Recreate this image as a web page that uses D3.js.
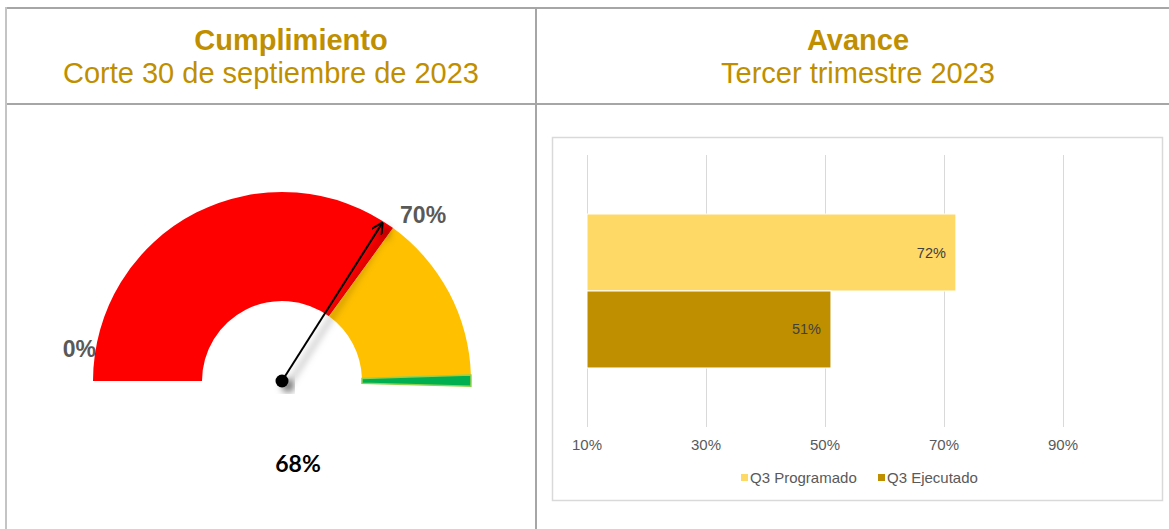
<!DOCTYPE html>
<meta charset="utf-8">
<style>
    body { margin: 0; background: #fff; }
    svg { display: block; font-family: "Liberation Sans", Arial, sans-serif; }
    .title { fill: #bf8f00; text-anchor: middle; font-size: 29px; }
    .grid line { stroke: #d9d9d9; stroke-width: 1px; }
    .tick-label { fill: #595959; font-size: 15px; text-anchor: middle; }
    .bar-label { fill: #404040; font-size: 14.5px; text-anchor: end; }
    .legend text { fill: #595959; font-size: 15px; }
    .gauge-label { fill: #595959; font-size: 23px; font-weight: bold; }
</style>
<body>
<script src="https://cdnjs.cloudflare.com/ajax/libs/d3/7.8.5/d3.min.js"></script>
<script>
    // ---- data ----
    var headerTitles = ["Cumplimiento", "Avance"];
    var headerSubtitles = ["Corte 30 de septiembre de 2023", "Tercer trimestre 2023"];

    // gauge: bands (fraction of the half circle), needle value and labels
    var gaugeBandStarts = [0, 0.70, 0.99];
    var gaugeBandEnds = [0.70, 0.99, 1.009];
    var gaugeBandColors = ["#ff0000", "#ffc000", "#00b050"];
    var gaugeValue = 0.68;
    var gaugeLabelValues = [0, 0.70];
    var gaugeLabelTexts = ["0%", "70%"];
    var gaugeValueText = "68%";

    // bar chart
    var categories = ["Q3"];
    var seriesNames = ["Q3 Programado", "Q3 Ejecutado"];
    var seriesValues = [0.72, 0.51];
    var seriesColors = ["#ffd966", "#bf8f00"];
    var xTicks = [0.1, 0.3, 0.5, 0.7, 0.9];

    var W = 1169, H = 529;
    var svg = d3.select("body").append("svg")
        .attr("width", W)
        .attr("height", H);

    var defs = svg.append("defs");
    defs.append("filter")
        .attr("id", "shadow")
        .attr("x", "-50%").attr("y", "-50%")
        .attr("width", "200%").attr("height", "200%")
        .append("feDropShadow")
        .attr("dx", 6).attr("dy", 5)
        .attr("stdDeviation", 3.5)
        .attr("flood-color", "#000")
        .attr("flood-opacity", 0.5);
    defs.append("marker")
        .attr("id", "arrow")
        .attr("viewBox", "0 0 10 10")
        .attr("refX", 9).attr("refY", 5)
        .attr("markerWidth", 6).attr("markerHeight", 6)
        .attr("orient", "auto")
        .append("path")
        .attr("d", "M0,0 L10,5 L0,10")
        .attr("fill", "none")
        .attr("stroke", "#000")
        .attr("stroke-width", 1.6);

    // ---- table frame ----
    var frame = svg.append("g").attr("stroke", "#a6a6a6").attr("stroke-width", 2);
    frame.append("line").attr("x1", 5).attr("x2", W).attr("y1", 8).attr("y2", 8);
    frame.append("line").attr("x1", 5).attr("x2", W).attr("y1", 104).attr("y2", 104);
    frame.append("line").attr("x1", 6).attr("x2", 6).attr("y1", 7).attr("y2", H)
        .attr("stroke", "#c4c4c4");
    frame.append("line").attr("x1", 536).attr("x2", 536).attr("y1", 7).attr("y2", H);

    // ---- headers ----
    var headerX = [291, 858];
    headerTitles.forEach(function(t, i) {
        svg.append("text").attr("class", "title")
            .attr("x", headerX[i]).attr("y", 50)
            .style("font-weight", "bold")
            .text(t);
        svg.append("text").attr("class", "title")
            .attr("x", i == 0 ? 271 : 858).attr("y", 83)
            .text(headerSubtitles[i]);
    });

    // ---- gauge ----
    var cx = 282, cy = 381, rInner = 80, rOuter = 189;
    var angle = d3.scaleLinear().domain([0, 1]).range([-Math.PI / 2, Math.PI / 2]);
    var arc = d3.arc().innerRadius(rInner).outerRadius(rOuter);
    var gauge = svg.append("g").attr("transform", "translate(" + cx + "," + cy + ")");

    gauge.selectAll("path.band")
        .data(gaugeBandStarts)
        .enter().append("path")
        .attr("class", "band")
        .attr("d", function(d, i) {
            return arc({ startAngle: angle(d), endAngle: angle(gaugeBandEnds[i]) });
        })
        .attr("fill", function(d, i) { return gaugeBandColors[i]; })
        .attr("stroke", function(d, i) { return i == 2 ? "#92d050" : "none"; })
        .attr("stroke-width", 1.5);

    function polar(v, r) {
        var a = angle(v);
        return [r * Math.sin(a), -r * Math.cos(a)];
    }

    // labels
    gaugeLabelValues.forEach(function(v, i) {
        var p = polar(v, rOuter);
        var t = gauge.append("text").attr("class", "gauge-label").text(gaugeLabelTexts[i]);
        if (i == 0) {
            t.attr("x", p[0] + 3).attr("y", p[1] - 24).attr("text-anchor", "end");
        } else {
            t.attr("x", p[0] + 7).attr("y", p[1] - 5).attr("text-anchor", "start");
        }
    });

    // needle
    var tip = polar(gaugeValue, 187);
    gauge.append("line")
        .attr("x1", 0).attr("y1", 0)
        .attr("x2", tip[0]).attr("y2", tip[1])
        .attr("stroke", "#000")
        .attr("stroke-width", 2)
        .attr("marker-end", "url(#arrow)")
        .attr("filter", "url(#shadow)");
    gauge.append("circle")
        .attr("r", 6.5)
        .attr("fill", "#000")
        .attr("filter", "url(#shadow)");

    svg.append("text")
        .attr("x", 298).attr("y", 472)
        .attr("text-anchor", "middle")
        .style("font-family", "Lato, 'Open Sans', sans-serif")
        .style("font-weight", "bold")
        .style("font-size", "23px")
        .attr("fill", "#000")
        .text(gaugeValueText);

    // ---- bar chart ----
    svg.append("rect")
        .attr("x", 552.5).attr("y", 137.5)
        .attr("width", 610).attr("height", 363)
        .attr("fill", "#fff")
        .attr("stroke", "#d9d9d9")
        .attr("stroke-width", 1.5);

    var x = d3.scaleLinear().domain([0.1, 0.9]).range([587, 1063]);
    var y0 = d3.scaleBand().domain(categories).range([155, 427])
        .paddingInner(0.434).paddingOuter(0.217);
    var y1 = d3.scaleBand().domain(seriesNames).range([0, y0.bandwidth()]);

    var grid = svg.append("g").attr("class", "grid");
    grid.selectAll("line").data(xTicks).enter().append("line")
        .attr("x1", function(d) { return x(d) + 0.5; })
        .attr("x2", function(d) { return x(d) + 0.5; })
        .attr("y1", 155).attr("y2", 427);

    svg.selectAll("text.tick-label").data(xTicks).enter().append("text")
        .attr("class", "tick-label")
        .attr("x", function(d) { return x(d); })
        .attr("y", 450)
        .text(d3.format(".0%"));

    var cat = svg.append("g").attr("transform", "translate(0," + y0(categories[0]) + ")");
    cat.selectAll("rect").data(seriesValues).enter().append("rect")
        .attr("x", x(0.1))
        .attr("y", function(d, i) { return y1(seriesNames[i]); })
        .attr("width", function(d) { return x(d) - x(0.1); })
        .attr("height", y1.bandwidth())
        .attr("fill", function(d, i) { return seriesColors[i]; })
        .attr("stroke", "#fff")
        .attr("stroke-width", 1);

    cat.selectAll("text").data(seriesValues).enter().append("text")
        .attr("class", "bar-label")
        .attr("x", function(d) { return x(d) - 10; })
        .attr("y", function(d, i) { return y1(seriesNames[i]) + y1.bandwidth() / 2 + 5; })
        .text(d3.format(".0%"));

    // legend
    var legendX = [741, 878];
    var legend = svg.append("g").attr("class", "legend");
    seriesNames.forEach(function(s, i) {
        legend.append("rect")
            .attr("x", legendX[i]).attr("y", 474)
            .attr("width", 7).attr("height", 7)
            .attr("fill", seriesColors[i]);
        legend.append("text")
            .attr("x", legendX[i] + 9).attr("y", 483)
            .text(s);
    });
</script>
</body>
